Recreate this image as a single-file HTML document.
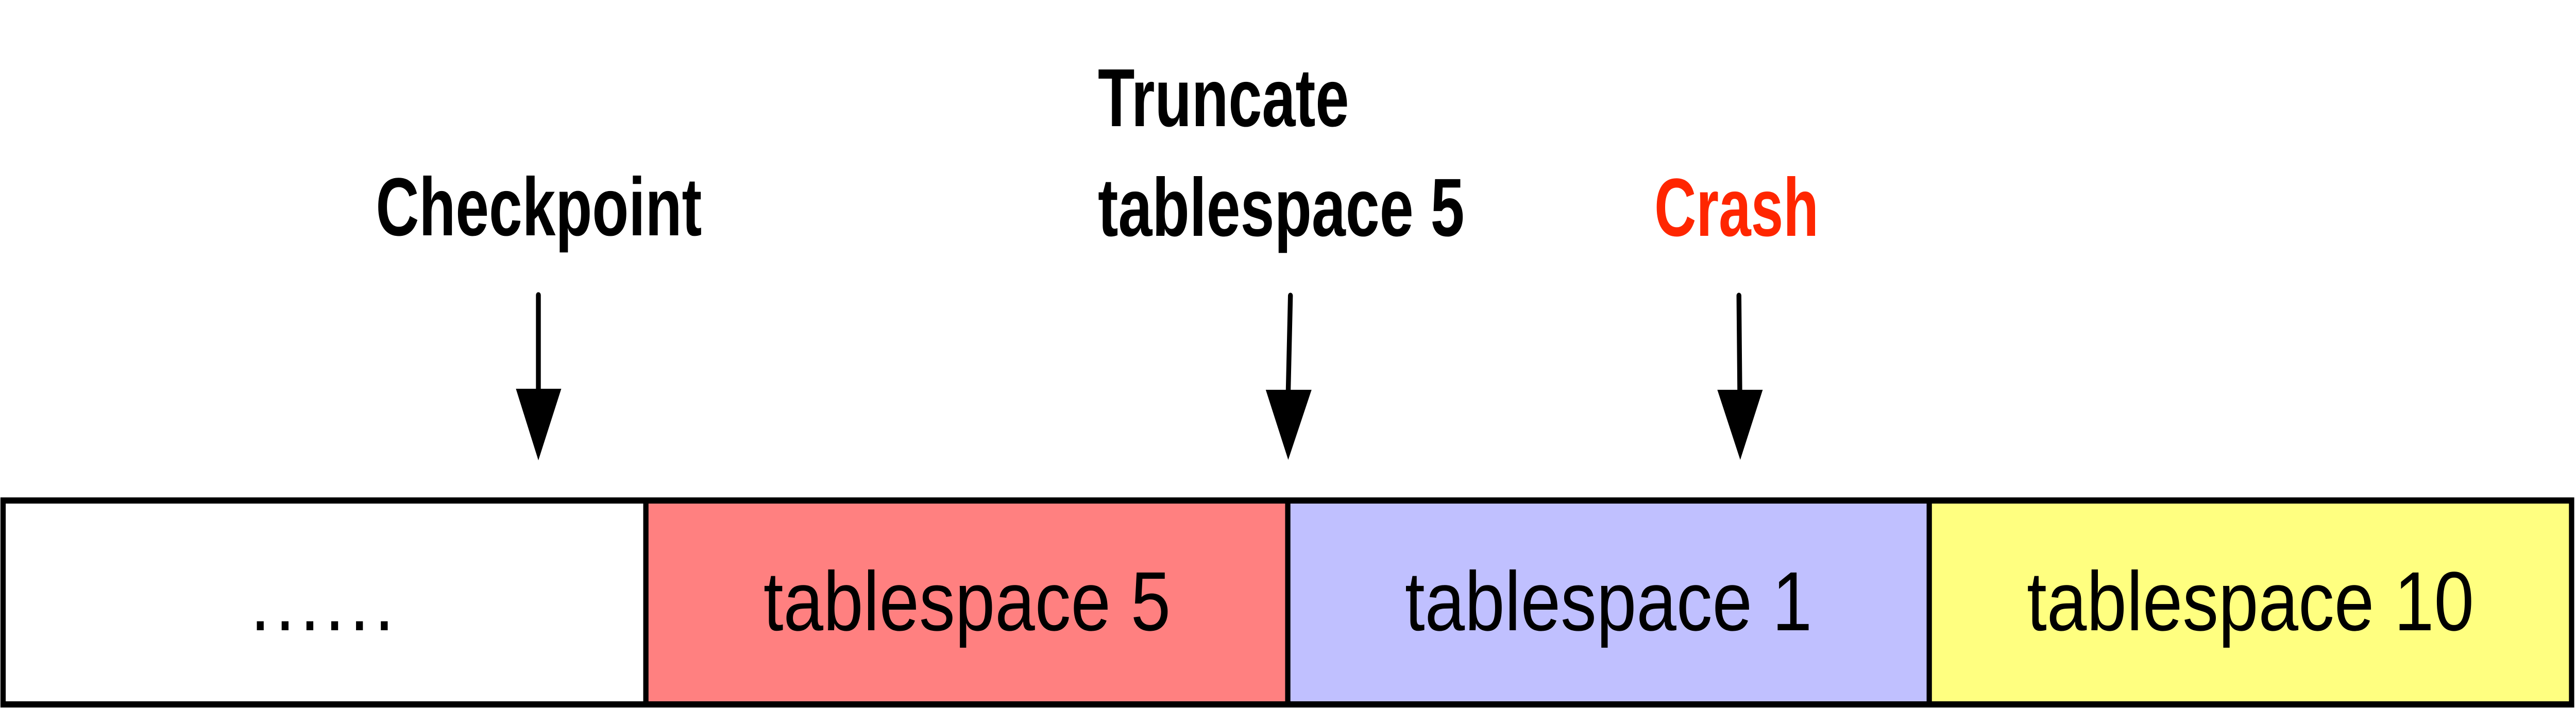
<!DOCTYPE html>
<html><head><style>html,body{margin:0;padding:0;background:#fff;overflow:hidden;width:100%;height:100%;}svg{display:block;position:fixed;left:0;top:0;width:100vw;height:100vh}</style></head>
<body>
<svg viewBox="0 0 5847 1375" preserveAspectRatio="none" xmlns="http://www.w3.org/2000/svg">
<rect x="0" y="0" width="5847" height="1375" fill="#fff"/>
<rect x="7" y="972" width="1459" height="396" fill="#fff"/>
<rect x="1466" y="972" width="1457" height="396" fill="#ff8080"/>
<rect x="2923" y="972" width="1456" height="396" fill="#c0c0ff"/>
<rect x="4379" y="972" width="1458" height="396" fill="#ffff80"/>
<rect x="7" y="972" width="5830" height="396" fill="none" stroke="#000" stroke-width="12"/>
<line x1="1466" y1="972" x2="1466" y2="1368" stroke="#000" stroke-width="12"/>
<line x1="2923" y1="972" x2="2923" y2="1368" stroke="#000" stroke-width="12"/>
<line x1="4379" y1="972" x2="4379" y2="1368" stroke="#000" stroke-width="12"/>
<g font-family="Liberation Sans, sans-serif" font-size="163" fill="#000" text-anchor="middle">
<text x="737" y="1224" letter-spacing="11">......</text>
<text x="2195" y="1224">tablespace 5</text>
<text x="3651" y="1224">tablespace 1</text>
<text x="5108" y="1224">tablespace 10</text>
</g>
<g font-family="Liberation Sans, sans-serif" font-weight="bold" font-size="160">
<text x="853" y="457" textLength="740" lengthAdjust="spacingAndGlyphs">Checkpoint</text>
<text x="2492" y="245" textLength="570" lengthAdjust="spacingAndGlyphs">Truncate</text>
<text x="2492" y="458" textLength="832" lengthAdjust="spacingAndGlyphs">tablespace 5</text>
<text x="3755" y="458" fill="#ff2600" textLength="373" lengthAdjust="spacingAndGlyphs">Crash</text>
</g>
<g stroke="#000" stroke-width="11" stroke-linecap="round">
<line x1="1222" y1="573" x2="1222" y2="760"/>
<line x1="2929" y1="574" x2="2924" y2="760"/>
<line x1="3947" y1="574" x2="3949" y2="760"/>
</g>
<g fill="#000">
<polygon points="1171,755 1274,755 1222,894"/>
<polygon points="2873,757 2977,757 2924,893"/>
<polygon points="3898,757 4001,757 3950,893"/>
</g>
</svg>
</body></html>
